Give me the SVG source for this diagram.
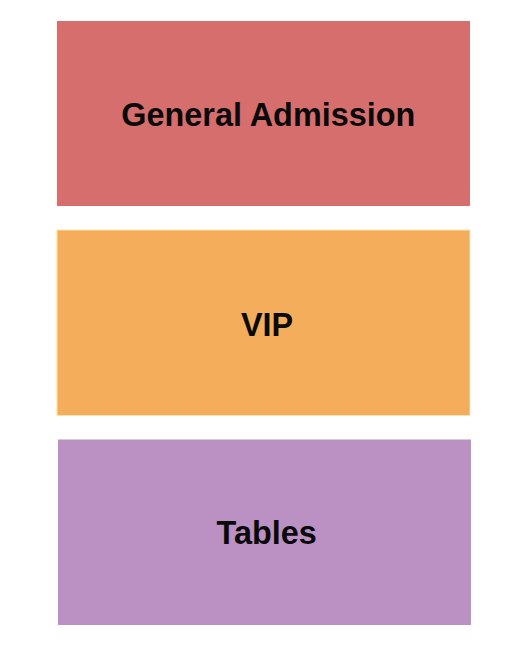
<svg xmlns="http://www.w3.org/2000/svg" width="525" height="650" viewBox="0 0 525 650">
<style>
.lbl{font-family:"Liberation Sans",Arial,sans-serif;font-weight:bold;font-size:32.4px;fill:#0a0a0a;text-anchor:middle}
</style>
<rect width="525" height="650" fill="#ffffff"/>
<g id="general-admission">
<rect x="57" y="21" width="413" height="185" fill="#d76e6e"/>
<text class="lbl" x="268.3" y="126">General Admission</text>
</g>
<g id="vip">
<rect x="57" y="230" width="413" height="185.5" fill="#f4ad5a" stroke="#fbe3b0" stroke-width="1"/>
<text class="lbl" x="267" y="336">VIP</text>
</g>
<g id="tables">
<rect x="58" y="439.5" width="413" height="185.5" fill="#bb90c2"/>
<text class="lbl" x="266.7" y="544">Tables</text>
</g>
<g id="connectors"/>
</svg>
